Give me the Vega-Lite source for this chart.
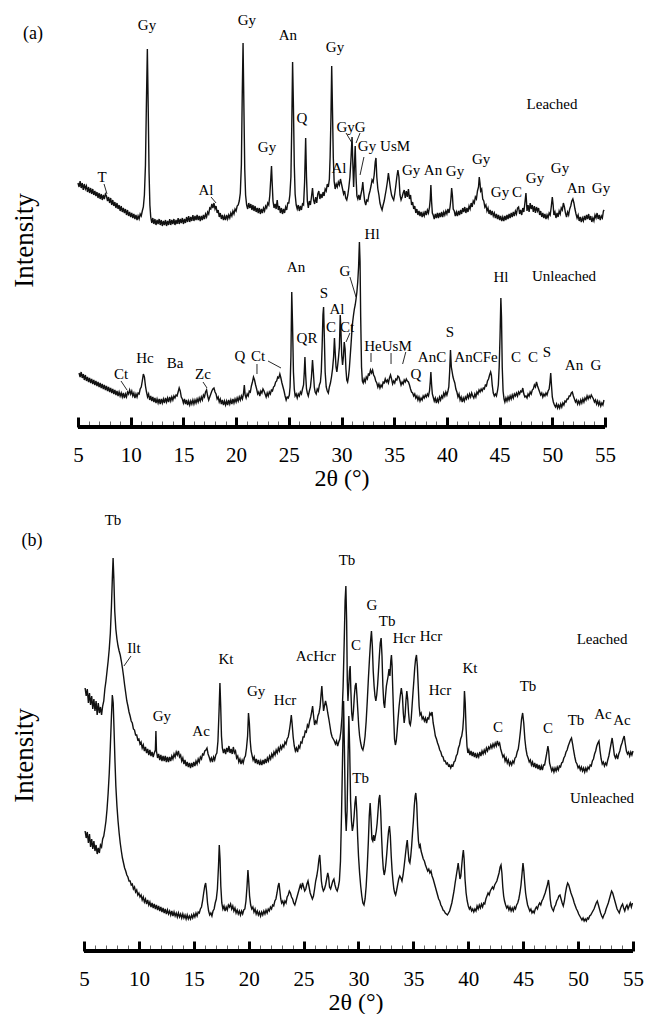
{
"$schema": "https://vega.github.io/schema/vega-lite/v6.json",
"background": "white",
"padding": {"left": 10, "top": 10, "right": 5, "bottom": 0},
"config": {"font": "Liberation Serif", "view": {"stroke": null}, "text": {"font": "Liberation Serif"}},
"datasets": {
"aL": [{"x":5.0,"y":244},{"x":5.1,"y":240},{"x":5.2,"y":246},{"x":5.3,"y":239},{"x":5.4,"y":244},{"x":5.5,"y":237},{"x":5.6,"y":243},{"x":5.7,"y":238},{"x":5.8,"y":241},{"x":5.9,"y":235},{"x":6.0,"y":240},{"x":6.1,"y":234},{"x":6.2,"y":239},{"x":6.3,"y":233},{"x":6.4,"y":238},{"x":6.5,"y":232},{"x":6.6,"y":236},{"x":6.7,"y":231},{"x":6.8,"y":235},{"x":6.9,"y":229},{"x":7.0,"y":234},{"x":7.1,"y":228},{"x":7.2,"y":233},{"x":7.3,"y":227},{"x":7.4,"y":232},{"x":7.5,"y":228},{"x":7.6,"y":233},{"x":7.7,"y":231},{"x":7.8,"y":226},{"x":7.9,"y":230},{"x":8.0,"y":224},{"x":8.1,"y":229},{"x":8.2,"y":222},{"x":8.3,"y":227},{"x":8.4,"y":221},{"x":8.5,"y":225},{"x":8.6,"y":219},{"x":8.7,"y":224},{"x":8.8,"y":218},{"x":8.9,"y":222},{"x":9.0,"y":216},{"x":9.1,"y":221},{"x":9.2,"y":215},{"x":9.3,"y":219},{"x":9.4,"y":214},{"x":9.5,"y":218},{"x":9.6,"y":212},{"x":9.7,"y":217},{"x":9.8,"y":211},{"x":9.9,"y":215},{"x":10.0,"y":210},{"x":10.1,"y":214},{"x":10.2,"y":209},{"x":10.3,"y":213},{"x":10.4,"y":208},{"x":10.5,"y":212},{"x":10.6,"y":207},{"x":10.7,"y":211},{"x":10.8,"y":208},{"x":10.9,"y":213},{"x":11.0,"y":211},{"x":11.1,"y":216},{"x":11.2,"y":220},{"x":11.3,"y":232},{"x":11.4,"y":262},{"x":11.5,"y":330},{"x":11.58,"y":378},{"x":11.66,"y":320},{"x":11.74,"y":255},{"x":11.82,"y":222},{"x":11.9,"y":210},{"x":12.0,"y":204},{"x":12.1,"y":209},{"x":12.2,"y":203},{"x":12.3,"y":208},{"x":12.4,"y":202},{"x":12.5,"y":207},{"x":12.6,"y":203},{"x":12.7,"y":208},{"x":12.8,"y":202},{"x":12.9,"y":207},{"x":13.0,"y":201},{"x":13.1,"y":206},{"x":13.2,"y":202},{"x":13.3,"y":207},{"x":13.4,"y":201},{"x":13.5,"y":206},{"x":13.6,"y":202},{"x":13.7,"y":208},{"x":13.8,"y":202},{"x":13.9,"y":207},{"x":14.0,"y":203},{"x":14.1,"y":208},{"x":14.2,"y":202},{"x":14.3,"y":207},{"x":14.4,"y":203},{"x":14.5,"y":209},{"x":14.6,"y":203},{"x":14.7,"y":208},{"x":14.8,"y":204},{"x":14.9,"y":209},{"x":15.0,"y":203},{"x":15.1,"y":208},{"x":15.2,"y":204},{"x":15.3,"y":210},{"x":15.4,"y":205},{"x":15.5,"y":211},{"x":15.6,"y":205},{"x":15.7,"y":210},{"x":15.8,"y":206},{"x":15.9,"y":212},{"x":16.0,"y":206},{"x":16.1,"y":211},{"x":16.2,"y":207},{"x":16.3,"y":212},{"x":16.4,"y":207},{"x":16.5,"y":211},{"x":16.6,"y":206},{"x":16.7,"y":211},{"x":16.8,"y":207},{"x":16.9,"y":212},{"x":17.0,"y":208},{"x":17.1,"y":213},{"x":17.2,"y":210},{"x":17.3,"y":215},{"x":17.4,"y":213},{"x":17.5,"y":219},{"x":17.6,"y":218},{"x":17.7,"y":223},{"x":17.8,"y":219},{"x":17.9,"y":224},{"x":18.0,"y":218},{"x":18.1,"y":221},{"x":18.2,"y":214},{"x":18.3,"y":217},{"x":18.4,"y":210},{"x":18.5,"y":214},{"x":18.6,"y":208},{"x":18.7,"y":212},{"x":18.8,"y":207},{"x":18.9,"y":211},{"x":19.0,"y":207},{"x":19.1,"y":212},{"x":19.2,"y":208},{"x":19.3,"y":212},{"x":19.4,"y":209},{"x":19.5,"y":214},{"x":19.6,"y":211},{"x":19.7,"y":216},{"x":19.8,"y":213},{"x":19.9,"y":218},{"x":20.0,"y":216},{"x":20.1,"y":221},{"x":20.2,"y":222},{"x":20.3,"y":226},{"x":20.4,"y":234},{"x":20.5,"y":262},{"x":20.58,"y":330},{"x":20.66,"y":384},{"x":20.74,"y":320},{"x":20.82,"y":258},{"x":20.9,"y":232},{"x":21.0,"y":222},{"x":21.1,"y":218},{"x":21.2,"y":224},{"x":21.3,"y":219},{"x":21.4,"y":223},{"x":21.5,"y":217},{"x":21.6,"y":222},{"x":21.7,"y":216},{"x":21.8,"y":221},{"x":21.9,"y":215},{"x":22.0,"y":219},{"x":22.1,"y":214},{"x":22.2,"y":219},{"x":22.3,"y":213},{"x":22.4,"y":218},{"x":22.5,"y":214},{"x":22.6,"y":219},{"x":22.7,"y":216},{"x":22.8,"y":221},{"x":22.9,"y":219},{"x":23.0,"y":224},{"x":23.1,"y":222},{"x":23.2,"y":232},{"x":23.3,"y":250},{"x":23.36,"y":261},{"x":23.42,"y":245},{"x":23.5,"y":226},{"x":23.6,"y":219},{"x":23.7,"y":223},{"x":23.8,"y":218},{"x":23.9,"y":227},{"x":24.0,"y":217},{"x":24.1,"y":221},{"x":24.2,"y":214},{"x":24.3,"y":219},{"x":24.4,"y":213},{"x":24.5,"y":218},{"x":24.6,"y":214},{"x":24.7,"y":220},{"x":24.8,"y":217},{"x":24.9,"y":224},{"x":25.0,"y":224},{"x":25.1,"y":232},{"x":25.2,"y":250},{"x":25.28,"y":300},{"x":25.36,"y":365},{"x":25.44,"y":320},{"x":25.52,"y":262},{"x":25.6,"y":233},{"x":25.7,"y":222},{"x":25.8,"y":218},{"x":25.9,"y":222},{"x":26.0,"y":216},{"x":26.1,"y":221},{"x":26.2,"y":217},{"x":26.3,"y":223},{"x":26.4,"y":222},{"x":26.5,"y":245},{"x":26.6,"y":289},{"x":26.68,"y":250},{"x":26.76,"y":226},{"x":26.85,"y":219},{"x":26.95,"y":226},{"x":27.05,"y":222},{"x":27.15,"y":230},{"x":27.25,"y":239},{"x":27.35,"y":227},{"x":27.45,"y":223},{"x":27.55,"y":230},{"x":27.65,"y":224},{"x":27.75,"y":233},{"x":27.85,"y":236},{"x":27.95,"y":228},{"x":28.05,"y":233},{"x":28.15,"y":229},{"x":28.25,"y":235},{"x":28.35,"y":231},{"x":28.45,"y":238},{"x":28.55,"y":236},{"x":28.65,"y":243},{"x":28.75,"y":240},{"x":28.85,"y":248},{"x":28.92,"y":270},{"x":29.0,"y":310},{"x":29.07,"y":361},{"x":29.14,"y":320},{"x":29.22,"y":270},{"x":29.3,"y":246},{"x":29.4,"y":238},{"x":29.5,"y":243},{"x":29.6,"y":240},{"x":29.7,"y":245},{"x":29.8,"y":242},{"x":29.9,"y":248},{"x":30.0,"y":243},{"x":30.1,"y":238},{"x":30.2,"y":233},{"x":30.3,"y":236},{"x":30.4,"y":229},{"x":30.5,"y":227},{"x":30.6,"y":232},{"x":30.7,"y":240},{"x":30.8,"y":250},{"x":30.9,"y":268},{"x":31.0,"y":290},{"x":31.08,"y":262},{"x":31.15,"y":240},{"x":31.22,"y":260},{"x":31.3,"y":281},{"x":31.38,"y":250},{"x":31.46,"y":231},{"x":31.55,"y":228},{"x":31.65,"y":232},{"x":31.75,"y":227},{"x":31.85,"y":233},{"x":31.95,"y":238},{"x":32.02,"y":245},{"x":32.1,"y":235},{"x":32.2,"y":226},{"x":32.3,"y":222},{"x":32.4,"y":227},{"x":32.5,"y":226},{"x":32.6,"y":232},{"x":32.7,"y":236},{"x":32.8,"y":241},{"x":32.9,"y":247},{"x":33.0,"y":245},{"x":33.1,"y":252},{"x":33.2,"y":265},{"x":33.27,"y":269},{"x":33.35,"y":250},{"x":33.45,"y":238},{"x":33.55,"y":232},{"x":33.65,"y":224},{"x":33.75,"y":220},{"x":33.85,"y":217},{"x":33.95,"y":222},{"x":34.05,"y":226},{"x":34.15,"y":232},{"x":34.25,"y":238},{"x":34.35,"y":245},{"x":34.45,"y":254},{"x":34.55,"y":246},{"x":34.65,"y":238},{"x":34.75,"y":232},{"x":34.85,"y":229},{"x":34.95,"y":227},{"x":35.05,"y":233},{"x":35.15,"y":241},{"x":35.25,"y":250},{"x":35.35,"y":257},{"x":35.45,"y":250},{"x":35.55,"y":232},{"x":35.65,"y":227},{"x":35.75,"y":230},{"x":35.85,"y":234},{"x":35.95,"y":237},{"x":36.05,"y":229},{"x":36.15,"y":236},{"x":36.25,"y":230},{"x":36.35,"y":238},{"x":36.45,"y":228},{"x":36.55,"y":232},{"x":36.65,"y":222},{"x":36.75,"y":225},{"x":36.85,"y":218},{"x":36.95,"y":221},{"x":37.05,"y":214},{"x":37.15,"y":218},{"x":37.25,"y":212},{"x":37.35,"y":216},{"x":37.45,"y":211},{"x":37.55,"y":215},{"x":37.65,"y":210},{"x":37.75,"y":214},{"x":37.85,"y":211},{"x":37.95,"y":216},{"x":38.05,"y":212},{"x":38.15,"y":217},{"x":38.25,"y":214},{"x":38.35,"y":220},{"x":38.42,"y":228},{"x":38.48,"y":242},{"x":38.55,"y":225},{"x":38.62,"y":214},{"x":38.7,"y":212},{"x":38.8,"y":208},{"x":38.9,"y":213},{"x":39.0,"y":209},{"x":39.1,"y":214},{"x":39.2,"y":209},{"x":39.3,"y":214},{"x":39.4,"y":210},{"x":39.5,"y":215},{"x":39.6,"y":210},{"x":39.7,"y":215},{"x":39.8,"y":212},{"x":39.9,"y":216},{"x":40.0,"y":213},{"x":40.1,"y":218},{"x":40.2,"y":214},{"x":40.3,"y":220},{"x":40.38,"y":228},{"x":40.45,"y":239},{"x":40.52,"y":232},{"x":40.6,"y":218},{"x":40.7,"y":216},{"x":40.8,"y":211},{"x":40.9,"y":215},{"x":41.0,"y":211},{"x":41.1,"y":216},{"x":41.2,"y":212},{"x":41.3,"y":217},{"x":41.4,"y":213},{"x":41.5,"y":219},{"x":41.6,"y":215},{"x":41.7,"y":220},{"x":41.8,"y":214},{"x":41.9,"y":219},{"x":42.0,"y":215},{"x":42.1,"y":221},{"x":42.2,"y":218},{"x":42.3,"y":224},{"x":42.4,"y":220},{"x":42.5,"y":226},{"x":42.6,"y":224},{"x":42.7,"y":230},{"x":42.8,"y":228},{"x":42.9,"y":236},{"x":43.0,"y":240},{"x":43.07,"y":250},{"x":43.14,"y":244},{"x":43.2,"y":236},{"x":43.3,"y":238},{"x":43.4,"y":228},{"x":43.5,"y":226},{"x":43.6,"y":220},{"x":43.7,"y":222},{"x":43.8,"y":216},{"x":43.9,"y":219},{"x":44.0,"y":213},{"x":44.1,"y":217},{"x":44.2,"y":212},{"x":44.3,"y":216},{"x":44.4,"y":211},{"x":44.5,"y":214},{"x":44.6,"y":209},{"x":44.7,"y":213},{"x":44.8,"y":208},{"x":44.9,"y":212},{"x":45.0,"y":207},{"x":45.1,"y":211},{"x":45.2,"y":206},{"x":45.3,"y":210},{"x":45.4,"y":206},{"x":45.5,"y":211},{"x":45.6,"y":207},{"x":45.7,"y":212},{"x":45.8,"y":208},{"x":45.9,"y":213},{"x":46.0,"y":209},{"x":46.1,"y":214},{"x":46.2,"y":210},{"x":46.3,"y":215},{"x":46.4,"y":211},{"x":46.5,"y":216},{"x":46.6,"y":213},{"x":46.7,"y":219},{"x":46.8,"y":220},{"x":46.9,"y":213},{"x":47.0,"y":217},{"x":47.1,"y":212},{"x":47.2,"y":219},{"x":47.3,"y":215},{"x":47.4,"y":224},{"x":47.5,"y":234},{"x":47.55,"y":226},{"x":47.6,"y":216},{"x":47.7,"y":222},{"x":47.8,"y":215},{"x":47.9,"y":224},{"x":48.0,"y":218},{"x":48.1,"y":222},{"x":48.2,"y":215},{"x":48.3,"y":221},{"x":48.4,"y":214},{"x":48.5,"y":220},{"x":48.6,"y":216},{"x":48.7,"y":219},{"x":48.8,"y":212},{"x":48.9,"y":216},{"x":49.0,"y":210},{"x":49.1,"y":214},{"x":49.2,"y":209},{"x":49.3,"y":213},{"x":49.4,"y":208},{"x":49.5,"y":212},{"x":49.6,"y":209},{"x":49.7,"y":214},{"x":49.8,"y":212},{"x":49.9,"y":220},{"x":50.0,"y":230},{"x":50.08,"y":222},{"x":50.15,"y":212},{"x":50.25,"y":215},{"x":50.35,"y":209},{"x":50.45,"y":214},{"x":50.55,"y":210},{"x":50.65,"y":216},{"x":50.75,"y":213},{"x":50.85,"y":219},{"x":50.95,"y":217},{"x":51.05,"y":224},{"x":51.15,"y":220},{"x":51.25,"y":214},{"x":51.35,"y":210},{"x":51.45,"y":215},{"x":51.55,"y":212},{"x":51.65,"y":218},{"x":51.75,"y":221},{"x":51.85,"y":226},{"x":51.95,"y":228},{"x":52.05,"y":224},{"x":52.15,"y":218},{"x":52.25,"y":213},{"x":52.35,"y":209},{"x":52.45,"y":212},{"x":52.55,"y":206},{"x":52.65,"y":210},{"x":52.75,"y":205},{"x":52.85,"y":209},{"x":52.95,"y":206},{"x":53.05,"y":211},{"x":53.15,"y":207},{"x":53.25,"y":212},{"x":53.35,"y":208},{"x":53.45,"y":213},{"x":53.55,"y":207},{"x":53.65,"y":211},{"x":53.75,"y":205},{"x":53.85,"y":209},{"x":53.95,"y":206},{"x":54.05,"y":212},{"x":54.15,"y":209},{"x":54.25,"y":214},{"x":54.35,"y":208},{"x":54.45,"y":212},{"x":54.55,"y":207},{"x":54.65,"y":211},{"x":54.75,"y":209},{"x":54.85,"y":216},{"x":54.92,"y":217}],
"aU": [{"x":5.1,"y":54},{"x":5.2,"y":50},{"x":5.3,"y":55},{"x":5.4,"y":49},{"x":5.5,"y":53},{"x":5.6,"y":47},{"x":5.7,"y":52},{"x":5.8,"y":46},{"x":5.9,"y":50},{"x":6.0,"y":45},{"x":6.1,"y":49},{"x":6.2,"y":44},{"x":6.3,"y":48},{"x":6.4,"y":43},{"x":6.5,"y":47},{"x":6.6,"y":42},{"x":6.7,"y":46},{"x":6.8,"y":41},{"x":6.9,"y":45},{"x":7.0,"y":40},{"x":7.1,"y":44},{"x":7.2,"y":39},{"x":7.3,"y":43},{"x":7.4,"y":38},{"x":7.5,"y":42},{"x":7.6,"y":37},{"x":7.7,"y":41},{"x":7.8,"y":36},{"x":7.9,"y":40},{"x":8.0,"y":35},{"x":8.1,"y":39},{"x":8.2,"y":34},{"x":8.3,"y":38},{"x":8.4,"y":33},{"x":8.5,"y":37},{"x":8.6,"y":32},{"x":8.7,"y":36},{"x":8.8,"y":31},{"x":8.9,"y":35},{"x":9.0,"y":31},{"x":9.1,"y":34},{"x":9.2,"y":30},{"x":9.3,"y":34},{"x":9.4,"y":29},{"x":9.5,"y":33},{"x":9.6,"y":30},{"x":9.7,"y":35},{"x":9.8,"y":33},{"x":9.9,"y":37},{"x":10.0,"y":33},{"x":10.1,"y":36},{"x":10.2,"y":31},{"x":10.3,"y":34},{"x":10.4,"y":29},{"x":10.5,"y":33},{"x":10.6,"y":30},{"x":10.7,"y":34},{"x":10.8,"y":33},{"x":10.9,"y":38},{"x":11.0,"y":40},{"x":11.1,"y":46},{"x":11.2,"y":53},{"x":11.3,"y":50},{"x":11.4,"y":41},{"x":11.5,"y":35},{"x":11.6,"y":30},{"x":11.7,"y":33},{"x":11.8,"y":27},{"x":11.9,"y":31},{"x":12.0,"y":26},{"x":12.1,"y":30},{"x":12.2,"y":25},{"x":12.3,"y":29},{"x":12.4,"y":24},{"x":12.5,"y":28},{"x":12.6,"y":24},{"x":12.7,"y":28},{"x":12.8,"y":23},{"x":12.9,"y":28},{"x":13.0,"y":24},{"x":13.1,"y":28},{"x":13.2,"y":24},{"x":13.3,"y":29},{"x":13.4,"y":25},{"x":13.5,"y":29},{"x":13.6,"y":25},{"x":13.7,"y":30},{"x":13.8,"y":26},{"x":13.9,"y":30},{"x":14.0,"y":27},{"x":14.1,"y":31},{"x":14.2,"y":29},{"x":14.3,"y":32},{"x":14.4,"y":31},{"x":14.5,"y":35},{"x":14.6,"y":39},{"x":14.7,"y":36},{"x":14.8,"y":30},{"x":14.9,"y":28},{"x":15.0,"y":24},{"x":15.1,"y":28},{"x":15.2,"y":23},{"x":15.3,"y":27},{"x":15.4,"y":22},{"x":15.5,"y":26},{"x":15.6,"y":22},{"x":15.7,"y":26},{"x":15.8,"y":23},{"x":15.9,"y":27},{"x":16.0,"y":23},{"x":16.1,"y":27},{"x":16.2,"y":24},{"x":16.3,"y":28},{"x":16.4,"y":25},{"x":16.5,"y":29},{"x":16.6,"y":26},{"x":16.7,"y":30},{"x":16.8,"y":27},{"x":16.9,"y":32},{"x":17.0,"y":30},{"x":17.1,"y":35},{"x":17.2,"y":37},{"x":17.3,"y":31},{"x":17.4,"y":27},{"x":17.5,"y":30},{"x":17.6,"y":33},{"x":17.7,"y":36},{"x":17.8,"y":38},{"x":17.9,"y":39},{"x":18.0,"y":35},{"x":18.1,"y":33},{"x":18.2,"y":28},{"x":18.3,"y":30},{"x":18.4,"y":25},{"x":18.5,"y":28},{"x":18.6,"y":23},{"x":18.7,"y":27},{"x":18.8,"y":22},{"x":18.9,"y":26},{"x":19.0,"y":22},{"x":19.1,"y":26},{"x":19.2,"y":22},{"x":19.3,"y":27},{"x":19.4,"y":23},{"x":19.5,"y":27},{"x":19.6,"y":23},{"x":19.7,"y":28},{"x":19.8,"y":24},{"x":19.9,"y":28},{"x":20.0,"y":25},{"x":20.1,"y":29},{"x":20.2,"y":26},{"x":20.3,"y":30},{"x":20.4,"y":27},{"x":20.5,"y":31},{"x":20.6,"y":28},{"x":20.7,"y":33},{"x":20.78,"y":42},{"x":20.86,"y":32},{"x":20.95,"y":29},{"x":21.05,"y":33},{"x":21.15,"y":31},{"x":21.25,"y":36},{"x":21.35,"y":35},{"x":21.45,"y":41},{"x":21.55,"y":45},{"x":21.65,"y":50},{"x":21.75,"y":47},{"x":21.85,"y":42},{"x":21.95,"y":38},{"x":22.05,"y":33},{"x":22.15,"y":35},{"x":22.25,"y":31},{"x":22.35,"y":36},{"x":22.45,"y":34},{"x":22.55,"y":38},{"x":22.65,"y":36},{"x":22.75,"y":33},{"x":22.85,"y":30},{"x":22.95,"y":34},{"x":23.05,"y":31},{"x":23.15,"y":35},{"x":23.25,"y":33},{"x":23.35,"y":37},{"x":23.45,"y":36},{"x":23.55,"y":40},{"x":23.65,"y":41},{"x":23.75,"y":45},{"x":23.85,"y":46},{"x":23.95,"y":50},{"x":24.05,"y":49},{"x":24.15,"y":53},{"x":24.25,"y":49},{"x":24.35,"y":44},{"x":24.45,"y":40},{"x":24.55,"y":36},{"x":24.65,"y":31},{"x":24.75,"y":27},{"x":24.85,"y":30},{"x":24.95,"y":29},{"x":25.05,"y":32},{"x":25.12,"y":40},{"x":25.2,"y":70},{"x":25.28,"y":135},{"x":25.36,"y":100},{"x":25.44,"y":55},{"x":25.52,"y":38},{"x":25.6,"y":31},{"x":25.7,"y":33},{"x":25.8,"y":29},{"x":25.9,"y":33},{"x":26.0,"y":31},{"x":26.1,"y":35},{"x":26.2,"y":33},{"x":26.3,"y":38},{"x":26.4,"y":42},{"x":26.47,"y":55},{"x":26.53,"y":70},{"x":26.6,"y":52},{"x":26.68,"y":38},{"x":26.76,"y":34},{"x":26.85,"y":31},{"x":26.95,"y":36},{"x":27.05,"y":40},{"x":27.15,"y":50},{"x":27.25,"y":67},{"x":27.33,"y":55},{"x":27.42,"y":40},{"x":27.5,"y":35},{"x":27.6,"y":33},{"x":27.7,"y":38},{"x":27.8,"y":36},{"x":27.9,"y":42},{"x":28.0,"y":45},{"x":28.08,"y":55},{"x":28.16,"y":80},{"x":28.24,"y":112},{"x":28.3,"y":120},{"x":28.37,"y":90},{"x":28.45,"y":55},{"x":28.55,"y":40},{"x":28.65,"y":36},{"x":28.75,"y":34},{"x":28.85,"y":40},{"x":28.95,"y":44},{"x":29.05,"y":50},{"x":29.15,"y":58},{"x":29.25,"y":70},{"x":29.33,"y":89},{"x":29.4,"y":75},{"x":29.48,"y":60},{"x":29.56,"y":55},{"x":29.64,"y":62},{"x":29.72,"y":70},{"x":29.8,"y":80},{"x":29.88,"y":112},{"x":29.95,"y":95},{"x":30.02,"y":72},{"x":30.1,"y":62},{"x":30.18,"y":70},{"x":30.26,"y":85},{"x":30.34,"y":78},{"x":30.42,"y":58},{"x":30.5,"y":47},{"x":30.58,"y":45},{"x":30.66,"y":50},{"x":30.74,"y":58},{"x":30.82,"y":70},{"x":30.9,"y":82},{"x":30.98,"y":95},{"x":31.06,"y":105},{"x":31.14,"y":112},{"x":31.22,"y":118},{"x":31.3,"y":122},{"x":31.38,"y":128},{"x":31.46,"y":135},{"x":31.54,"y":145},{"x":31.62,"y":160},{"x":31.7,"y":185},{"x":31.76,"y":165},{"x":31.82,"y":110},{"x":31.9,"y":60},{"x":31.98,"y":46},{"x":32.06,"y":44},{"x":32.15,"y":48},{"x":32.25,"y":45},{"x":32.35,"y":50},{"x":32.45,"y":48},{"x":32.55,"y":53},{"x":32.65,"y":52},{"x":32.75,"y":57},{"x":32.85,"y":54},{"x":32.95,"y":57},{"x":33.05,"y":52},{"x":33.15,"y":50},{"x":33.25,"y":46},{"x":33.35,"y":44},{"x":33.45,"y":40},{"x":33.55,"y":43},{"x":33.65,"y":39},{"x":33.75,"y":42},{"x":33.85,"y":40},{"x":33.95,"y":45},{"x":34.05,"y":44},{"x":34.15,"y":48},{"x":34.25,"y":45},{"x":34.35,"y":47},{"x":34.45,"y":44},{"x":34.55,"y":49},{"x":34.65,"y":52},{"x":34.75,"y":48},{"x":34.85,"y":43},{"x":34.95,"y":46},{"x":35.05,"y":44},{"x":35.15,"y":48},{"x":35.25,"y":47},{"x":35.35,"y":51},{"x":35.45,"y":50},{"x":35.55,"y":46},{"x":35.65,"y":42},{"x":35.75,"y":45},{"x":35.85,"y":43},{"x":35.95,"y":47},{"x":36.05,"y":45},{"x":36.15,"y":48},{"x":36.25,"y":46},{"x":36.35,"y":45},{"x":36.45,"y":42},{"x":36.55,"y":38},{"x":36.65,"y":35},{"x":36.75,"y":34},{"x":36.85,"y":31},{"x":36.95,"y":33},{"x":37.05,"y":29},{"x":37.15,"y":31},{"x":37.25,"y":27},{"x":37.35,"y":30},{"x":37.45,"y":26},{"x":37.55,"y":29},{"x":37.65,"y":27},{"x":37.75,"y":31},{"x":37.85,"y":29},{"x":37.95,"y":32},{"x":38.05,"y":30},{"x":38.15,"y":33},{"x":38.25,"y":31},{"x":38.35,"y":36},{"x":38.42,"y":45},{"x":38.48,"y":55},{"x":38.55,"y":42},{"x":38.62,"y":33},{"x":38.7,"y":30},{"x":38.8,"y":26},{"x":38.9,"y":29},{"x":39.0,"y":24},{"x":39.1,"y":28},{"x":39.2,"y":25},{"x":39.3,"y":30},{"x":39.4,"y":27},{"x":39.5,"y":31},{"x":39.6,"y":29},{"x":39.7,"y":34},{"x":39.8,"y":31},{"x":39.9,"y":35},{"x":40.0,"y":32},{"x":40.1,"y":36},{"x":40.18,"y":40},{"x":40.26,"y":55},{"x":40.34,"y":77},{"x":40.42,"y":60},{"x":40.5,"y":55},{"x":40.58,"y":50},{"x":40.66,"y":47},{"x":40.75,"y":44},{"x":40.85,"y":38},{"x":40.95,"y":35},{"x":41.05,"y":30},{"x":41.15,"y":33},{"x":41.25,"y":27},{"x":41.35,"y":30},{"x":41.45,"y":25},{"x":41.55,"y":29},{"x":41.65,"y":26},{"x":41.75,"y":30},{"x":41.85,"y":28},{"x":41.95,"y":32},{"x":42.05,"y":29},{"x":42.15,"y":33},{"x":42.25,"y":30},{"x":42.35,"y":34},{"x":42.45,"y":31},{"x":42.55,"y":29},{"x":42.65,"y":33},{"x":42.75,"y":30},{"x":42.85,"y":35},{"x":42.95,"y":33},{"x":43.05,"y":37},{"x":43.15,"y":35},{"x":43.25,"y":38},{"x":43.35,"y":36},{"x":43.45,"y":39},{"x":43.55,"y":38},{"x":43.65,"y":42},{"x":43.75,"y":41},{"x":43.85,"y":46},{"x":43.95,"y":48},{"x":44.05,"y":52},{"x":44.15,"y":55},{"x":44.22,"y":52},{"x":44.3,"y":42},{"x":44.4,"y":34},{"x":44.5,"y":31},{"x":44.6,"y":33},{"x":44.7,"y":31},{"x":44.8,"y":36},{"x":44.88,"y":42},{"x":44.96,"y":60},{"x":45.04,"y":90},{"x":45.12,"y":129},{"x":45.18,"y":110},{"x":45.25,"y":60},{"x":45.33,"y":36},{"x":45.42,"y":28},{"x":45.5,"y":25},{"x":45.6,"y":29},{"x":45.7,"y":26},{"x":45.8,"y":30},{"x":45.9,"y":27},{"x":46.0,"y":31},{"x":46.1,"y":28},{"x":46.2,"y":32},{"x":46.3,"y":29},{"x":46.4,"y":33},{"x":46.5,"y":31},{"x":46.6,"y":34},{"x":46.7,"y":31},{"x":46.8,"y":35},{"x":46.9,"y":33},{"x":47.0,"y":36},{"x":47.1,"y":35},{"x":47.2,"y":39},{"x":47.3,"y":33},{"x":47.4,"y":30},{"x":47.5,"y":31},{"x":47.6,"y":29},{"x":47.7,"y":33},{"x":47.8,"y":31},{"x":47.9,"y":35},{"x":48.0,"y":33},{"x":48.1,"y":37},{"x":48.2,"y":38},{"x":48.3,"y":42},{"x":48.4,"y":40},{"x":48.5,"y":45},{"x":48.6,"y":41},{"x":48.7,"y":38},{"x":48.8,"y":35},{"x":48.9,"y":32},{"x":49.0,"y":34},{"x":49.1,"y":30},{"x":49.2,"y":33},{"x":49.3,"y":31},{"x":49.4,"y":34},{"x":49.5,"y":32},{"x":49.6,"y":36},{"x":49.7,"y":38},{"x":49.78,"y":45},{"x":49.85,"y":54},{"x":49.92,"y":42},{"x":50.0,"y":30},{"x":50.1,"y":25},{"x":50.2,"y":22},{"x":50.3,"y":20},{"x":50.4,"y":23},{"x":50.5,"y":19},{"x":50.6,"y":22},{"x":50.7,"y":19},{"x":50.8,"y":23},{"x":50.9,"y":20},{"x":51.0,"y":24},{"x":51.1,"y":22},{"x":51.2,"y":26},{"x":51.3,"y":25},{"x":51.4,"y":28},{"x":51.5,"y":28},{"x":51.6,"y":31},{"x":51.7,"y":31},{"x":51.8,"y":34},{"x":51.9,"y":35},{"x":52.0,"y":31},{"x":52.1,"y":28},{"x":52.2,"y":25},{"x":52.3,"y":27},{"x":52.4,"y":23},{"x":52.5,"y":26},{"x":52.6,"y":23},{"x":52.7,"y":27},{"x":52.8,"y":24},{"x":52.9,"y":28},{"x":53.0,"y":25},{"x":53.1,"y":29},{"x":53.2,"y":27},{"x":53.3,"y":31},{"x":53.4,"y":28},{"x":53.5,"y":31},{"x":53.6,"y":29},{"x":53.7,"y":32},{"x":53.8,"y":30},{"x":53.9,"y":28},{"x":54.0,"y":25},{"x":54.1,"y":27},{"x":54.2,"y":23},{"x":54.3,"y":26},{"x":54.4,"y":22},{"x":54.5,"y":25},{"x":54.6,"y":21},{"x":54.7,"y":24},{"x":54.8,"y":22},{"x":54.9,"y":27}],
"bL": [{"x":5.1,"y":263},{"x":5.2,"y":255},{"x":5.3,"y":262},{"x":5.4,"y":248},{"x":5.5,"y":258},{"x":5.6,"y":246},{"x":5.7,"y":255},{"x":5.8,"y":242},{"x":5.9,"y":252},{"x":6.0,"y":240},{"x":6.1,"y":250},{"x":6.2,"y":236},{"x":6.3,"y":248},{"x":6.4,"y":238},{"x":6.5,"y":244},{"x":6.6,"y":236},{"x":6.7,"y":245},{"x":6.8,"y":250},{"x":6.9,"y":262},{"x":7.0,"y":270},{"x":7.1,"y":280},{"x":7.2,"y":290},{"x":7.3,"y":302},{"x":7.4,"y":318},{"x":7.5,"y":345},{"x":7.58,"y":372},{"x":7.65,"y":393},{"x":7.72,"y":372},{"x":7.8,"y":340},{"x":7.9,"y":322},{"x":8.0,"y":312},{"x":8.1,"y":305},{"x":8.2,"y":300},{"x":8.3,"y":296},{"x":8.4,"y":290},{"x":8.5,"y":283},{"x":8.6,"y":275},{"x":8.7,"y":266},{"x":8.8,"y":258},{"x":8.9,"y":250},{"x":9.0,"y":245},{"x":9.1,"y":239},{"x":9.2,"y":235},{"x":9.3,"y":230},{"x":9.4,"y":228},{"x":9.5,"y":222},{"x":9.6,"y":221},{"x":9.7,"y":216},{"x":9.8,"y":216},{"x":9.9,"y":211},{"x":10.0,"y":212},{"x":10.1,"y":207},{"x":10.2,"y":209},{"x":10.3,"y":203},{"x":10.4,"y":206},{"x":10.5,"y":200},{"x":10.6,"y":204},{"x":10.7,"y":198},{"x":10.8,"y":202},{"x":10.9,"y":196},{"x":11.0,"y":201},{"x":11.1,"y":195},{"x":11.2,"y":199},{"x":11.3,"y":194},{"x":11.4,"y":198},{"x":11.5,"y":201},{"x":11.55,"y":220},{"x":11.6,"y":200},{"x":11.7,"y":193},{"x":11.8,"y":197},{"x":11.9,"y":191},{"x":12.0,"y":196},{"x":12.1,"y":190},{"x":12.2,"y":195},{"x":12.3,"y":190},{"x":12.4,"y":195},{"x":12.5,"y":189},{"x":12.6,"y":194},{"x":12.7,"y":189},{"x":12.8,"y":194},{"x":12.9,"y":190},{"x":13.0,"y":195},{"x":13.1,"y":192},{"x":13.2,"y":197},{"x":13.3,"y":194},{"x":13.4,"y":199},{"x":13.5,"y":196},{"x":13.6,"y":200},{"x":13.7,"y":194},{"x":13.8,"y":196},{"x":13.9,"y":190},{"x":14.0,"y":193},{"x":14.1,"y":187},{"x":14.2,"y":191},{"x":14.3,"y":185},{"x":14.4,"y":189},{"x":14.5,"y":184},{"x":14.6,"y":188},{"x":14.7,"y":183},{"x":14.8,"y":188},{"x":14.9,"y":184},{"x":15.0,"y":189},{"x":15.1,"y":185},{"x":15.2,"y":190},{"x":15.3,"y":187},{"x":15.4,"y":192},{"x":15.5,"y":189},{"x":15.6,"y":194},{"x":15.7,"y":192},{"x":15.8,"y":197},{"x":15.9,"y":196},{"x":16.0,"y":200},{"x":16.1,"y":201},{"x":16.2,"y":203},{"x":16.3,"y":197},{"x":16.4,"y":194},{"x":16.5,"y":190},{"x":16.6,"y":193},{"x":16.7,"y":189},{"x":16.8,"y":194},{"x":16.9,"y":191},{"x":17.0,"y":196},{"x":17.1,"y":198},{"x":17.2,"y":210},{"x":17.3,"y":240},{"x":17.38,"y":268},{"x":17.45,"y":245},{"x":17.52,"y":215},{"x":17.6,"y":203},{"x":17.7,"y":198},{"x":17.8,"y":202},{"x":17.9,"y":197},{"x":18.0,"y":203},{"x":18.1,"y":199},{"x":18.2,"y":205},{"x":18.3,"y":198},{"x":18.4,"y":202},{"x":18.5,"y":197},{"x":18.6,"y":204},{"x":18.7,"y":198},{"x":18.8,"y":200},{"x":18.9,"y":193},{"x":19.0,"y":195},{"x":19.1,"y":189},{"x":19.2,"y":192},{"x":19.3,"y":187},{"x":19.4,"y":191},{"x":19.5,"y":188},{"x":19.6,"y":193},{"x":19.7,"y":195},{"x":19.8,"y":203},{"x":19.9,"y":215},{"x":19.98,"y":238},{"x":20.06,"y":228},{"x":20.14,"y":210},{"x":20.22,"y":200},{"x":20.3,"y":196},{"x":20.4,"y":191},{"x":20.5,"y":194},{"x":20.6,"y":188},{"x":20.7,"y":192},{"x":20.8,"y":187},{"x":20.9,"y":191},{"x":21.0,"y":186},{"x":21.1,"y":190},{"x":21.2,"y":186},{"x":21.3,"y":191},{"x":21.4,"y":187},{"x":21.5,"y":192},{"x":21.6,"y":188},{"x":21.7,"y":193},{"x":21.8,"y":190},{"x":21.9,"y":195},{"x":22.0,"y":192},{"x":22.1,"y":197},{"x":22.2,"y":194},{"x":22.3,"y":199},{"x":22.4,"y":196},{"x":22.5,"y":201},{"x":22.6,"y":198},{"x":22.7,"y":203},{"x":22.8,"y":200},{"x":22.9,"y":205},{"x":23.0,"y":202},{"x":23.1,"y":206},{"x":23.2,"y":204},{"x":23.3,"y":209},{"x":23.4,"y":207},{"x":23.5,"y":212},{"x":23.6,"y":214},{"x":23.7,"y":220},{"x":23.8,"y":228},{"x":23.88,"y":236},{"x":23.95,"y":228},{"x":24.05,"y":214},{"x":24.15,"y":205},{"x":24.25,"y":200},{"x":24.35,"y":203},{"x":24.45,"y":199},{"x":24.55,"y":205},{"x":24.65,"y":203},{"x":24.75,"y":209},{"x":24.85,"y":208},{"x":24.95,"y":214},{"x":25.05,"y":214},{"x":25.15,"y":220},{"x":25.25,"y":219},{"x":25.35,"y":226},{"x":25.45,"y":224},{"x":25.55,"y":230},{"x":25.65,"y":234},{"x":25.75,"y":240},{"x":25.82,"y":245},{"x":25.9,"y":236},{"x":26.0,"y":226},{"x":26.1,"y":230},{"x":26.2,"y":228},{"x":26.3,"y":235},{"x":26.4,"y":238},{"x":26.5,"y":244},{"x":26.58,"y":255},{"x":26.66,"y":265},{"x":26.74,"y":252},{"x":26.82,"y":240},{"x":26.9,"y":245},{"x":27.0,"y":250},{"x":27.1,"y":245},{"x":27.2,"y":238},{"x":27.3,"y":232},{"x":27.4,"y":225},{"x":27.5,"y":218},{"x":27.6,"y":214},{"x":27.7,"y":212},{"x":27.8,"y":210},{"x":27.9,"y":207},{"x":28.0,"y":210},{"x":28.1,"y":205},{"x":28.2,"y":209},{"x":28.3,"y":212},{"x":28.4,"y":220},{"x":28.5,"y":235},{"x":28.6,"y":265},{"x":28.7,"y":310},{"x":28.78,"y":350},{"x":28.85,"y":365},{"x":28.92,"y":330},{"x":28.98,"y":270},{"x":29.04,"y":250},{"x":29.1,"y":262},{"x":29.18,"y":280},{"x":29.24,"y":285},{"x":29.3,"y":262},{"x":29.38,"y":238},{"x":29.46,"y":230},{"x":29.54,"y":240},{"x":29.62,"y":255},{"x":29.7,"y":265},{"x":29.78,"y":268},{"x":29.86,"y":255},{"x":29.94,"y":240},{"x":30.02,"y":225},{"x":30.1,"y":215},{"x":30.2,"y":208},{"x":30.3,"y":203},{"x":30.4,"y":201},{"x":30.5,"y":206},{"x":30.6,"y":215},{"x":30.7,"y":230},{"x":30.8,"y":250},{"x":30.9,"y":272},{"x":31.0,"y":292},{"x":31.1,"y":310},{"x":31.18,"y":320},{"x":31.26,"y":305},{"x":31.34,"y":280},{"x":31.42,"y":265},{"x":31.5,"y":255},{"x":31.58,"y":250},{"x":31.66,"y":256},{"x":31.74,"y":266},{"x":31.82,"y":280},{"x":31.9,"y":295},{"x":31.98,"y":308},{"x":32.06,"y":313},{"x":32.14,"y":295},{"x":32.22,"y":265},{"x":32.3,"y":248},{"x":32.38,"y":243},{"x":32.46,"y":255},{"x":32.54,"y":265},{"x":32.62,"y":270},{"x":32.7,"y":275},{"x":32.78,"y":282},{"x":32.86,"y":275},{"x":32.94,"y":290},{"x":33.0,"y":296},{"x":33.06,"y":285},{"x":33.12,"y":262},{"x":33.2,"y":235},{"x":33.28,"y":212},{"x":33.36,"y":206},{"x":33.44,"y":210},{"x":33.52,"y":220},{"x":33.6,"y":232},{"x":33.7,"y":245},{"x":33.8,"y":255},{"x":33.9,"y":263},{"x":34.0,"y":255},{"x":34.08,"y":238},{"x":34.16,"y":228},{"x":34.24,"y":235},{"x":34.32,"y":250},{"x":34.4,"y":260},{"x":34.48,"y":252},{"x":34.56,"y":238},{"x":34.64,"y":228},{"x":34.72,"y":226},{"x":34.8,"y":232},{"x":34.88,"y":245},{"x":34.96,"y":258},{"x":35.04,"y":270},{"x":35.12,"y":283},{"x":35.2,"y":292},{"x":35.28,"y":296},{"x":35.36,"y":285},{"x":35.44,"y":265},{"x":35.52,"y":245},{"x":35.6,"y":236},{"x":35.7,"y":238},{"x":35.8,"y":232},{"x":35.9,"y":234},{"x":36.0,"y":230},{"x":36.1,"y":233},{"x":36.2,"y":228},{"x":36.3,"y":233},{"x":36.4,"y":232},{"x":36.5,"y":238},{"x":36.6,"y":236},{"x":36.7,"y":239},{"x":36.8,"y":228},{"x":36.9,"y":222},{"x":37.0,"y":215},{"x":37.1,"y":212},{"x":37.2,"y":208},{"x":37.3,"y":205},{"x":37.4,"y":201},{"x":37.5,"y":199},{"x":37.6,"y":195},{"x":37.7,"y":194},{"x":37.8,"y":190},{"x":37.9,"y":190},{"x":38.0,"y":187},{"x":38.1,"y":188},{"x":38.2,"y":185},{"x":38.3,"y":186},{"x":38.4,"y":183},{"x":38.5,"y":186},{"x":38.6,"y":185},{"x":38.7,"y":189},{"x":38.8,"y":190},{"x":38.9,"y":195},{"x":39.0,"y":197},{"x":39.1,"y":203},{"x":39.2,"y":206},{"x":39.3,"y":212},{"x":39.4,"y":215},{"x":39.5,"y":222},{"x":39.58,"y":235},{"x":39.65,"y":260},{"x":39.72,"y":248},{"x":39.8,"y":222},{"x":39.88,"y":205},{"x":39.96,"y":198},{"x":40.05,"y":201},{"x":40.15,"y":196},{"x":40.25,"y":200},{"x":40.35,"y":195},{"x":40.45,"y":199},{"x":40.55,"y":194},{"x":40.65,"y":198},{"x":40.75,"y":193},{"x":40.85,"y":197},{"x":40.95,"y":194},{"x":41.05,"y":199},{"x":41.15,"y":195},{"x":41.25,"y":200},{"x":41.35,"y":197},{"x":41.45,"y":201},{"x":41.55,"y":198},{"x":41.65,"y":203},{"x":41.75,"y":200},{"x":41.85,"y":204},{"x":41.95,"y":202},{"x":42.05,"y":206},{"x":42.15,"y":203},{"x":42.25,"y":207},{"x":42.35,"y":204},{"x":42.45,"y":208},{"x":42.55,"y":205},{"x":42.65,"y":210},{"x":42.75,"y":206},{"x":42.85,"y":208},{"x":42.95,"y":202},{"x":43.05,"y":198},{"x":43.15,"y":194},{"x":43.25,"y":196},{"x":43.35,"y":190},{"x":43.45,"y":193},{"x":43.55,"y":188},{"x":43.65,"y":191},{"x":43.75,"y":186},{"x":43.85,"y":189},{"x":43.95,"y":186},{"x":44.05,"y":190},{"x":44.15,"y":188},{"x":44.25,"y":193},{"x":44.35,"y":194},{"x":44.45,"y":199},{"x":44.55,"y":202},{"x":44.65,"y":210},{"x":44.75,"y":220},{"x":44.85,"y":232},{"x":44.95,"y":238},{"x":45.05,"y":228},{"x":45.15,"y":212},{"x":45.25,"y":202},{"x":45.35,"y":196},{"x":45.45,"y":193},{"x":45.55,"y":189},{"x":45.65,"y":191},{"x":45.75,"y":186},{"x":45.85,"y":189},{"x":45.95,"y":184},{"x":46.05,"y":188},{"x":46.15,"y":183},{"x":46.25,"y":187},{"x":46.35,"y":182},{"x":46.45,"y":186},{"x":46.55,"y":181},{"x":46.65,"y":185},{"x":46.75,"y":181},{"x":46.85,"y":186},{"x":46.95,"y":186},{"x":47.05,"y":192},{"x":47.15,"y":198},{"x":47.25,"y":205},{"x":47.32,"y":200},{"x":47.4,"y":188},{"x":47.5,"y":184},{"x":47.6,"y":180},{"x":47.7,"y":183},{"x":47.8,"y":179},{"x":47.9,"y":183},{"x":48.0,"y":180},{"x":48.1,"y":184},{"x":48.2,"y":181},{"x":48.3,"y":185},{"x":48.4,"y":184},{"x":48.5,"y":188},{"x":48.6,"y":189},{"x":48.7,"y":193},{"x":48.8,"y":195},{"x":48.9,"y":199},{"x":49.0,"y":201},{"x":49.1,"y":205},{"x":49.2,"y":208},{"x":49.3,"y":211},{"x":49.4,"y":213},{"x":49.5,"y":207},{"x":49.6,"y":200},{"x":49.7,"y":194},{"x":49.8,"y":189},{"x":49.9,"y":187},{"x":50.0,"y":183},{"x":50.1,"y":185},{"x":50.2,"y":181},{"x":50.3,"y":184},{"x":50.4,"y":180},{"x":50.5,"y":183},{"x":50.6,"y":179},{"x":50.7,"y":183},{"x":50.8,"y":180},{"x":50.9,"y":184},{"x":51.0,"y":182},{"x":51.1,"y":186},{"x":51.2,"y":185},{"x":51.3,"y":190},{"x":51.4,"y":192},{"x":51.5,"y":197},{"x":51.6,"y":200},{"x":51.7,"y":205},{"x":51.8,"y":208},{"x":51.9,"y":210},{"x":52.0,"y":200},{"x":52.1,"y":192},{"x":52.2,"y":187},{"x":52.3,"y":189},{"x":52.4,"y":185},{"x":52.5,"y":188},{"x":52.6,"y":186},{"x":52.7,"y":191},{"x":52.8,"y":195},{"x":52.9,"y":201},{"x":53.0,"y":207},{"x":53.1,"y":213},{"x":53.2,"y":205},{"x":53.3,"y":196},{"x":53.4,"y":193},{"x":53.5,"y":196},{"x":53.6,"y":192},{"x":53.7,"y":197},{"x":53.8,"y":200},{"x":53.9,"y":205},{"x":54.0,"y":208},{"x":54.1,"y":212},{"x":54.2,"y":215},{"x":54.3,"y":207},{"x":54.4,"y":200},{"x":54.5,"y":197},{"x":54.6,"y":199},{"x":54.7,"y":195},{"x":54.8,"y":199},{"x":54.9,"y":196},{"x":55.0,"y":200}],
"bU": [{"x":5.1,"y":120},{"x":5.2,"y":113},{"x":5.3,"y":119},{"x":5.4,"y":108},{"x":5.5,"y":117},{"x":5.6,"y":104},{"x":5.7,"y":112},{"x":5.8,"y":102},{"x":5.9,"y":110},{"x":6.0,"y":100},{"x":6.1,"y":106},{"x":6.2,"y":97},{"x":6.3,"y":103},{"x":6.4,"y":98},{"x":6.5,"y":106},{"x":6.6,"y":104},{"x":6.7,"y":112},{"x":6.8,"y":115},{"x":6.9,"y":122},{"x":7.0,"y":130},{"x":7.1,"y":142},{"x":7.2,"y":158},{"x":7.3,"y":178},{"x":7.4,"y":205},{"x":7.5,"y":235},{"x":7.58,"y":256},{"x":7.66,"y":248},{"x":7.74,"y":220},{"x":7.82,"y":190},{"x":7.9,"y":165},{"x":8.0,"y":145},{"x":8.1,"y":130},{"x":8.2,"y":118},{"x":8.3,"y":108},{"x":8.4,"y":100},{"x":8.5,"y":93},{"x":8.6,"y":88},{"x":8.7,"y":83},{"x":8.8,"y":80},{"x":8.9,"y":76},{"x":9.0,"y":74},{"x":9.1,"y":70},{"x":9.2,"y":70},{"x":9.3,"y":66},{"x":9.4,"y":67},{"x":9.5,"y":62},{"x":9.6,"y":64},{"x":9.7,"y":59},{"x":9.8,"y":61},{"x":9.9,"y":56},{"x":10.0,"y":58},{"x":10.1,"y":54},{"x":10.2,"y":56},{"x":10.3,"y":51},{"x":10.4,"y":54},{"x":10.5,"y":49},{"x":10.6,"y":52},{"x":10.7,"y":47},{"x":10.8,"y":51},{"x":10.9,"y":46},{"x":11.0,"y":49},{"x":11.1,"y":44},{"x":11.2,"y":48},{"x":11.3,"y":43},{"x":11.4,"y":47},{"x":11.5,"y":42},{"x":11.6,"y":46},{"x":11.7,"y":41},{"x":11.8,"y":45},{"x":11.9,"y":40},{"x":12.0,"y":44},{"x":12.1,"y":39},{"x":12.2,"y":43},{"x":12.3,"y":38},{"x":12.4,"y":42},{"x":12.5,"y":37},{"x":12.6,"y":41},{"x":12.7,"y":37},{"x":12.8,"y":40},{"x":12.9,"y":36},{"x":13.0,"y":40},{"x":13.1,"y":35},{"x":13.2,"y":39},{"x":13.3,"y":35},{"x":13.4,"y":38},{"x":13.5,"y":34},{"x":13.6,"y":38},{"x":13.7,"y":34},{"x":13.8,"y":37},{"x":13.9,"y":33},{"x":14.0,"y":37},{"x":14.1,"y":33},{"x":14.2,"y":36},{"x":14.3,"y":32},{"x":14.4,"y":36},{"x":14.5,"y":32},{"x":14.6,"y":35},{"x":14.7,"y":32},{"x":14.8,"y":36},{"x":14.9,"y":33},{"x":15.0,"y":37},{"x":15.1,"y":34},{"x":15.2,"y":38},{"x":15.3,"y":35},{"x":15.4,"y":39},{"x":15.5,"y":38},{"x":15.6,"y":42},{"x":15.7,"y":44},{"x":15.8,"y":50},{"x":15.9,"y":58},{"x":16.0,"y":65},{"x":16.08,"y":68},{"x":16.16,"y":60},{"x":16.25,"y":48},{"x":16.35,"y":40},{"x":16.45,"y":36},{"x":16.55,"y":38},{"x":16.65,"y":35},{"x":16.75,"y":40},{"x":16.85,"y":42},{"x":16.95,"y":48},{"x":17.05,"y":52},{"x":17.15,"y":62},{"x":17.25,"y":85},{"x":17.32,"y":106},{"x":17.39,"y":92},{"x":17.46,"y":65},{"x":17.55,"y":48},{"x":17.65,"y":42},{"x":17.75,"y":45},{"x":17.85,"y":40},{"x":17.95,"y":44},{"x":18.05,"y":41},{"x":18.15,"y":46},{"x":18.25,"y":44},{"x":18.35,"y":47},{"x":18.45,"y":42},{"x":18.55,"y":45},{"x":18.65,"y":40},{"x":18.75,"y":43},{"x":18.85,"y":38},{"x":18.95,"y":41},{"x":19.05,"y":37},{"x":19.15,"y":40},{"x":19.25,"y":36},{"x":19.35,"y":40},{"x":19.45,"y":37},{"x":19.55,"y":41},{"x":19.65,"y":42},{"x":19.75,"y":50},{"x":19.85,"y":65},{"x":19.93,"y":81},{"x":20.0,"y":70},{"x":20.08,"y":55},{"x":20.18,"y":46},{"x":20.28,"y":42},{"x":20.38,"y":44},{"x":20.48,"y":39},{"x":20.58,"y":42},{"x":20.68,"y":37},{"x":20.78,"y":40},{"x":20.88,"y":36},{"x":20.98,"y":39},{"x":21.08,"y":35},{"x":21.18,"y":39},{"x":21.28,"y":36},{"x":21.38,"y":40},{"x":21.48,"y":37},{"x":21.58,"y":41},{"x":21.68,"y":38},{"x":21.78,"y":42},{"x":21.88,"y":40},{"x":21.98,"y":44},{"x":22.08,"y":42},{"x":22.18,"y":46},{"x":22.28,"y":45},{"x":22.38,"y":50},{"x":22.48,"y":52},{"x":22.58,"y":58},{"x":22.68,"y":65},{"x":22.76,"y":68},{"x":22.84,"y":60},{"x":22.92,"y":52},{"x":23.0,"y":48},{"x":23.1,"y":50},{"x":23.2,"y":46},{"x":23.3,"y":50},{"x":23.4,"y":48},{"x":23.5,"y":54},{"x":23.6,"y":56},{"x":23.7,"y":60},{"x":23.8,"y":58},{"x":23.9,"y":54},{"x":24.0,"y":52},{"x":24.1,"y":48},{"x":24.2,"y":46},{"x":24.3,"y":50},{"x":24.4,"y":54},{"x":24.5,"y":58},{"x":24.6,"y":62},{"x":24.7,"y":66},{"x":24.8,"y":63},{"x":24.9,"y":68},{"x":25.0,"y":64},{"x":25.1,"y":60},{"x":25.2,"y":62},{"x":25.3,"y":67},{"x":25.4,"y":70},{"x":25.5,"y":64},{"x":25.6,"y":58},{"x":25.7,"y":55},{"x":25.8,"y":52},{"x":25.9,"y":55},{"x":26.0,"y":62},{"x":26.1,"y":70},{"x":26.2,"y":75},{"x":26.3,"y":82},{"x":26.4,"y":92},{"x":26.47,"y":96},{"x":26.54,"y":85},{"x":26.62,"y":70},{"x":26.7,"y":64},{"x":26.8,"y":60},{"x":26.9,"y":62},{"x":27.0,"y":66},{"x":27.1,"y":72},{"x":27.2,"y":78},{"x":27.28,"y":74},{"x":27.36,"y":64},{"x":27.46,"y":62},{"x":27.56,"y":66},{"x":27.66,"y":70},{"x":27.76,"y":72},{"x":27.86,"y":66},{"x":27.96,"y":62},{"x":28.06,"y":60},{"x":28.16,"y":64},{"x":28.26,"y":70},{"x":28.36,"y":90},{"x":28.46,"y":140},{"x":28.56,"y":200},{"x":28.64,"y":250},{"x":28.72,"y":200},{"x":28.8,"y":140},{"x":28.88,"y":120},{"x":28.96,"y":140},{"x":29.04,"y":190},{"x":29.12,"y":235},{"x":29.2,"y":200},{"x":29.28,"y":150},{"x":29.36,"y":130},{"x":29.44,"y":120},{"x":29.52,"y":125},{"x":29.6,"y":135},{"x":29.68,"y":148},{"x":29.76,"y":155},{"x":29.84,"y":140},{"x":29.92,"y":115},{"x":30.0,"y":95},{"x":30.1,"y":78},{"x":30.2,"y":65},{"x":30.3,"y":55},{"x":30.4,"y":48},{"x":30.5,"y":46},{"x":30.6,"y":52},{"x":30.7,"y":65},{"x":30.8,"y":85},{"x":30.9,"y":110},{"x":30.98,"y":135},{"x":31.06,"y":148},{"x":31.14,"y":132},{"x":31.22,"y":112},{"x":31.3,"y":110},{"x":31.38,"y":116},{"x":31.46,"y":110},{"x":31.54,"y":115},{"x":31.62,"y":120},{"x":31.7,"y":128},{"x":31.78,"y":140},{"x":31.86,"y":152},{"x":31.94,"y":156},{"x":32.02,"y":140},{"x":32.1,"y":115},{"x":32.18,"y":95},{"x":32.26,"y":82},{"x":32.34,"y":76},{"x":32.42,"y":80},{"x":32.5,"y":88},{"x":32.58,"y":98},{"x":32.66,"y":110},{"x":32.74,"y":120},{"x":32.82,"y":125},{"x":32.9,"y":115},{"x":32.98,"y":95},{"x":33.06,"y":80},{"x":33.14,"y":70},{"x":33.22,"y":62},{"x":33.3,"y":58},{"x":33.38,"y":56},{"x":33.46,"y":60},{"x":33.56,"y":66},{"x":33.66,"y":72},{"x":33.76,"y":75},{"x":33.86,"y":73},{"x":33.96,"y":70},{"x":34.06,"y":76},{"x":34.16,"y":85},{"x":34.26,"y":95},{"x":34.36,"y":105},{"x":34.44,"y":111},{"x":34.52,"y":100},{"x":34.6,"y":90},{"x":34.68,"y":88},{"x":34.76,"y":95},{"x":34.84,"y":105},{"x":34.92,"y":118},{"x":35.0,"y":130},{"x":35.08,"y":145},{"x":35.16,"y":155},{"x":35.22,"y":158},{"x":35.3,"y":148},{"x":35.38,"y":125},{"x":35.46,"y":110},{"x":35.54,"y":104},{"x":35.62,"y":106},{"x":35.7,"y":100},{"x":35.8,"y":96},{"x":35.9,"y":92},{"x":36.0,"y":90},{"x":36.1,"y":86},{"x":36.2,"y":83},{"x":36.3,"y":80},{"x":36.4,"y":82},{"x":36.5,"y":78},{"x":36.6,"y":80},{"x":36.7,"y":75},{"x":36.8,"y":72},{"x":36.9,"y":68},{"x":37.0,"y":64},{"x":37.1,"y":60},{"x":37.2,"y":56},{"x":37.3,"y":52},{"x":37.4,"y":50},{"x":37.5,"y":46},{"x":37.6,"y":44},{"x":37.7,"y":41},{"x":37.8,"y":40},{"x":37.9,"y":38},{"x":38.0,"y":37},{"x":38.1,"y":36},{"x":38.2,"y":38},{"x":38.3,"y":40},{"x":38.4,"y":44},{"x":38.5,"y":48},{"x":38.6,"y":54},{"x":38.7,"y":60},{"x":38.8,"y":68},{"x":38.9,"y":75},{"x":39.0,"y":82},{"x":39.08,"y":88},{"x":39.16,"y":80},{"x":39.24,"y":72},{"x":39.32,"y":75},{"x":39.4,"y":85},{"x":39.48,"y":95},{"x":39.55,"y":101},{"x":39.62,"y":92},{"x":39.7,"y":72},{"x":39.8,"y":58},{"x":39.9,"y":50},{"x":40.0,"y":45},{"x":40.1,"y":42},{"x":40.2,"y":44},{"x":40.3,"y":40},{"x":40.4,"y":42},{"x":40.5,"y":39},{"x":40.6,"y":42},{"x":40.7,"y":40},{"x":40.8,"y":45},{"x":40.9,"y":42},{"x":41.0,"y":46},{"x":41.1,"y":43},{"x":41.2,"y":47},{"x":41.3,"y":44},{"x":41.4,"y":48},{"x":41.5,"y":47},{"x":41.6,"y":52},{"x":41.7,"y":55},{"x":41.8,"y":58},{"x":41.9,"y":56},{"x":42.0,"y":60},{"x":42.1,"y":62},{"x":42.2,"y":64},{"x":42.3,"y":62},{"x":42.4,"y":66},{"x":42.5,"y":68},{"x":42.6,"y":70},{"x":42.7,"y":74},{"x":42.8,"y":78},{"x":42.9,"y":84},{"x":42.98,"y":86},{"x":43.06,"y":78},{"x":43.14,"y":64},{"x":43.22,"y":55},{"x":43.3,"y":50},{"x":43.4,"y":46},{"x":43.5,"y":43},{"x":43.6,"y":45},{"x":43.7,"y":41},{"x":43.8,"y":44},{"x":43.9,"y":40},{"x":44.0,"y":43},{"x":44.1,"y":40},{"x":44.2,"y":44},{"x":44.3,"y":42},{"x":44.4,"y":46},{"x":44.5,"y":48},{"x":44.6,"y":52},{"x":44.7,"y":58},{"x":44.8,"y":66},{"x":44.9,"y":78},{"x":44.98,"y":88},{"x":45.06,"y":80},{"x":45.14,"y":68},{"x":45.22,"y":58},{"x":45.3,"y":52},{"x":45.4,"y":46},{"x":45.5,"y":43},{"x":45.6,"y":40},{"x":45.7,"y":42},{"x":45.8,"y":38},{"x":45.9,"y":40},{"x":46.0,"y":38},{"x":46.1,"y":42},{"x":46.2,"y":44},{"x":46.3,"y":42},{"x":46.4,"y":46},{"x":46.5,"y":48},{"x":46.6,"y":46},{"x":46.7,"y":50},{"x":46.8,"y":52},{"x":46.9,"y":55},{"x":47.0,"y":58},{"x":47.1,"y":62},{"x":47.2,"y":66},{"x":47.3,"y":71},{"x":47.38,"y":64},{"x":47.46,"y":52},{"x":47.55,"y":45},{"x":47.65,"y":42},{"x":47.75,"y":40},{"x":47.85,"y":44},{"x":47.95,"y":46},{"x":48.05,"y":50},{"x":48.15,"y":52},{"x":48.25,"y":55},{"x":48.35,"y":56},{"x":48.45,"y":52},{"x":48.55,"y":48},{"x":48.65,"y":45},{"x":48.75,"y":50},{"x":48.85,"y":58},{"x":48.95,"y":64},{"x":49.05,"y":68},{"x":49.15,"y":66},{"x":49.25,"y":62},{"x":49.35,"y":58},{"x":49.45,"y":55},{"x":49.55,"y":52},{"x":49.65,"y":48},{"x":49.75,"y":45},{"x":49.85,"y":42},{"x":49.95,"y":40},{"x":50.05,"y":37},{"x":50.15,"y":35},{"x":50.25,"y":33},{"x":50.35,"y":31},{"x":50.45,"y":33},{"x":50.55,"y":30},{"x":50.65,"y":32},{"x":50.75,"y":30},{"x":50.85,"y":33},{"x":50.95,"y":32},{"x":51.05,"y":35},{"x":51.15,"y":36},{"x":51.25,"y":38},{"x":51.35,"y":40},{"x":51.45,"y":42},{"x":51.55,"y":45},{"x":51.65,"y":48},{"x":51.75,"y":50},{"x":51.85,"y":46},{"x":51.95,"y":42},{"x":52.05,"y":38},{"x":52.15,"y":35},{"x":52.25,"y":33},{"x":52.35,"y":36},{"x":52.45,"y":38},{"x":52.55,"y":42},{"x":52.65,"y":45},{"x":52.75,"y":48},{"x":52.85,"y":52},{"x":52.95,"y":56},{"x":53.05,"y":60},{"x":53.15,"y":58},{"x":53.25,"y":54},{"x":53.35,"y":50},{"x":53.45,"y":46},{"x":53.55,"y":42},{"x":53.65,"y":40},{"x":53.75,"y":38},{"x":53.85,"y":42},{"x":53.95,"y":45},{"x":54.05,"y":47},{"x":54.15,"y":43},{"x":54.25,"y":40},{"x":54.35,"y":44},{"x":54.45,"y":46},{"x":54.55,"y":42},{"x":54.65,"y":45},{"x":54.75,"y":48},{"x":54.85,"y":44},{"x":54.95,"y":48}],
"aLab": [{"t":"Gy","x":11.55,"y":402},{"t":"Gy","x":21.03,"y":407},{"t":"An","x":24.92,"y":392},{"t":"Q","x":26.25,"y":309},{"t":"Gy","x":22.93,"y":280},{"t":"T","x":7.28,"y":250},{"t":"Al","x":17.14,"y":237},{"t":"Gy","x":29.38,"y":380},{"t":"GyG","x":30.9,"y":300},{"t":"Al","x":29.76,"y":259},{"t":"Gy","x":32.42,"y":281},{"t":"UsM","x":35.08,"y":281},{"t":"Gy","x":36.6,"y":257},{"t":"An","x":38.68,"y":257},{"t":"Gy","x":40.77,"y":256},{"t":"Gy","x":43.24,"y":268},{"t":"Gy","x":45.04,"y":235},{"t":"C","x":46.65,"y":235},{"t":"Gy","x":48.36,"y":249},{"t":"Gy","x":50.73,"y":259},{"t":"An","x":52.25,"y":239},{"t":"Gy","x":54.62,"y":239},{"t":"Leached","x":49.97,"y":323},{"t":"Ct","x":9.08,"y":53},{"t":"Hc","x":11.36,"y":69},{"t":"Ba","x":14.2,"y":64},{"t":"Zc","x":16.86,"y":53},{"t":"Q","x":20.37,"y":71},{"t":"Ct","x":22.08,"y":71},{"t":"An","x":25.68,"y":160},{"t":"QR","x":26.73,"y":89},{"t":"S","x":28.34,"y":134},{"t":"Al","x":29.57,"y":118},{"t":"C","x":29.0,"y":100},{"t":"Ct","x":30.52,"y":100},{"t":"G","x":30.33,"y":156},{"t":"Hl","x":32.9,"y":193},{"t":"HeUsM","x":34.41,"y":81},{"t":"Q","x":37.07,"y":53},{"t":"AnC","x":38.59,"y":70},{"t":"S","x":40.29,"y":95},{"t":"AnCFe","x":42.76,"y":70},{"t":"Hl","x":45.13,"y":150},{"t":"C","x":46.56,"y":70},{"t":"C","x":48.17,"y":70},{"t":"S","x":49.5,"y":75},{"t":"An","x":52.06,"y":62},{"t":"G","x":54.15,"y":62},{"t":"Unleached","x":51.11,"y":151}],
"aTag": [{"t":"(a)","x":0.73,"y":393}],
"aLines": [{"x":7.47,"y":243,"x2":7.75,"y2":233},{"x":17.62,"y":230,"x2":18.1,"y2":224},{"x":30.43,"y":294,"x2":31.0,"y2":284},{"x":31.76,"y":294,"x2":31.38,"y2":284},{"x":32.13,"y":270,"x2":31.76,"y2":252},{"x":9.08,"y":46,"x2":9.65,"y2":37},{"x":16.86,"y":45,"x2":17.24,"y2":39},{"x":21.98,"y":63,"x2":21.98,"y2":53},{"x":23.03,"y":66,"x2":24.26,"y2":59},{"x":30.8,"y":150,"x2":31.38,"y2":130},{"x":30.8,"y":94,"x2":30.43,"y2":85},{"x":32.8,"y":74,"x2":32.8,"y2":65},{"x":34.7,"y":74,"x2":34.7,"y2":63},{"x":36.1,"y":75,"x2":35.8,"y2":63}],
"base": [{"x":5,"x2":55,"y":0,"y2":0}],
"bLab": [{"t":"Tb","x":7.64,"y":431},{"t":"Ilt","x":9.55,"y":303},{"t":"Gy","x":12.1,"y":235},{"t":"Ac","x":15.66,"y":220},{"t":"Kt","x":17.93,"y":292},{"t":"Gy","x":20.67,"y":260},{"t":"Hcr","x":23.31,"y":251},{"t":"AcHcr","x":26.1,"y":295},{"t":"Tb","x":28.95,"y":391},{"t":"C","x":29.77,"y":306},{"t":"G","x":31.23,"y":346},{"t":"Tb","x":32.6,"y":330},{"t":"Hcr","x":34.14,"y":313},{"t":"Hcr","x":36.6,"y":315},{"t":"Hcr","x":37.42,"y":261},{"t":"Kt","x":40.15,"y":283},{"t":"C","x":42.7,"y":224},{"t":"Tb","x":45.44,"y":265},{"t":"C","x":47.26,"y":223},{"t":"Tb","x":49.81,"y":231},{"t":"Ac","x":52.27,"y":237},{"t":"Ac","x":54.0,"y":231},{"t":"Leached","x":52.18,"y":312},{"t":"Tb","x":30.2,"y":173},{"t":"Unleached","x":52.18,"y":153}],
"bTag": [{"t":"(b)","x":0.26,"y":410}],
"bLines": [{"x":9.28,"y":295,"x2":8.64,"y2":285}]
},
"concat": [
{
"width": 527, "height": 417,
"encoding": {
"x": {"field": "x", "type": "quantitative", "scale": {"domain": [5, 55], "nice": false, "zero": false},
"axis": {"values": [5,6,7,8,9,10,11,12,13,14,15,16,17,18,19,20,21,22,23,24,25,26,27,28,29,30,31,32,33,34,35,36,37,38,39,40,41,42,43,44,45,46,47,48,49,50,51,52,53,54,55],
"labelExpr": "datum.value % 5 === 0 ? datum.label : ''",
"tickSize": {"condition": {"test": "datum.value % 5 === 0", "value": -10}, "value": -6},
"tickWidth": {"condition": {"test": "datum.value % 5 === 0", "value": 3}, "value": 1},
"tickColor": {"condition": {"test": "datum.value % 5 === 0", "value": "#000"}, "value": "#666"},
"domain": false, "grid": false,
"labelFont": "Liberation Serif", "labelFontSize": 21, "labelColor": "#000", "labelPadding": 27, "labelFlush": false, "labelOverlap": false,
"title": "2θ (°)", "titleFont": "Liberation Serif", "titleFontSize": 24, "titleFontWeight": "normal", "titleColor": "#000", "titlePadding": -3}},
"y": {"field": "y", "type": "quantitative", "scale": {"domain": [0, 417], "nice": false},
"axis": {"title": "Intensity", "labels": false, "ticks": false, "domain": false, "grid": false, "titleFont": "Liberation Serif", "titleFontSize": 27, "titleFontWeight": "normal", "titleColor": "#000", "titlePadding": 40, "titleY": 230}}
},
"layer": [
{"data": {"name": "base"}, "mark": {"type": "rule", "color": "#000", "strokeWidth": 4}, "encoding": {"x2": {"field": "x2"}, "y2": {"field": "y2"}}},
{"data": {"name": "aL"}, "mark": {"type": "line", "color": "#111", "strokeWidth": 1.4}, "encoding": {}},
{"data": {"name": "aU"}, "mark": {"type": "line", "color": "#111", "strokeWidth": 1.4}, "encoding": {}},
{"data": {"name": "aLines"}, "mark": {"type": "rule", "color": "#111", "strokeWidth": 0.9}, "encoding": {"x2": {"field": "x2"}, "y2": {"field": "y2"}}},
{"data": {"name": "aLab"}, "mark": {"type": "text", "font": "Liberation Serif", "fontSize": 15, "color": "#000"}, "encoding": {"text": {"field": "t"}}},
{"data": {"name": "aTag"}, "mark": {"type": "text", "font": "Liberation Serif", "fontSize": 18, "color": "#000"}, "encoding": {"text": {"field": "t"}}}
]
},
{
"width": 555, "height": 441,
"encoding": {
"x": {"field": "x", "type": "quantitative", "scale": {"domain": [4.4536, 55], "nice": false, "zero": false},
"axis": {"values": [5,6,7,8,9,10,11,12,13,14,15,16,17,18,19,20,21,22,23,24,25,26,27,28,29,30,31,32,33,34,35,36,37,38,39,40,41,42,43,44,45,46,47,48,49,50,51,52,53,54,55],
"labelExpr": "datum.value % 5 === 0 ? datum.label : ''",
"tickSize": {"condition": {"test": "datum.value % 5 === 0", "value": -10}, "value": -6},
"tickWidth": {"condition": {"test": "datum.value % 5 === 0", "value": 3}, "value": 1},
"tickColor": {"condition": {"test": "datum.value % 5 === 0", "value": "#000"}, "value": "#666"},
"domain": false, "grid": false,
"labelFont": "Liberation Serif", "labelFontSize": 21, "labelColor": "#000", "labelPadding": 27, "labelFlush": false, "labelOverlap": false,
"title": "2θ (°)", "titleFont": "Liberation Serif", "titleFontSize": 24, "titleFontWeight": "normal", "titleColor": "#000", "titlePadding": -3}},
"y": {"field": "y", "type": "quantitative", "scale": {"domain": [0, 441], "nice": false},
"axis": {"title": "Intensity", "labels": false, "ticks": false, "domain": false, "grid": false, "titleFont": "Liberation Serif", "titleFontSize": 27, "titleFontWeight": "normal", "titleColor": "#000", "titlePadding": 40, "titleY": 245}}
},
"layer": [
{"data": {"name": "base"}, "mark": {"type": "rule", "color": "#000", "strokeWidth": 4}, "encoding": {"x2": {"field": "x2"}, "y2": {"field": "y2"}}},
{"data": {"name": "bL"}, "mark": {"type": "line", "color": "#111", "strokeWidth": 1.4}, "encoding": {}},
{"data": {"name": "bU"}, "mark": {"type": "line", "color": "#111", "strokeWidth": 1.4}, "encoding": {}},
{"data": {"name": "bLines"}, "mark": {"type": "rule", "color": "#111", "strokeWidth": 0.9}, "encoding": {"x2": {"field": "x2"}, "y2": {"field": "y2"}}},
{"data": {"name": "bLab"}, "mark": {"type": "text", "font": "Liberation Serif", "fontSize": 15, "color": "#000"}, "encoding": {"text": {"field": "t"}}},
{"data": {"name": "bTag"}, "mark": {"type": "text", "font": "Liberation Serif", "fontSize": 18, "color": "#000"}, "encoding": {"text": {"field": "t"}}}
]
}
],
"columns": 1,
"spacing": 20
}
